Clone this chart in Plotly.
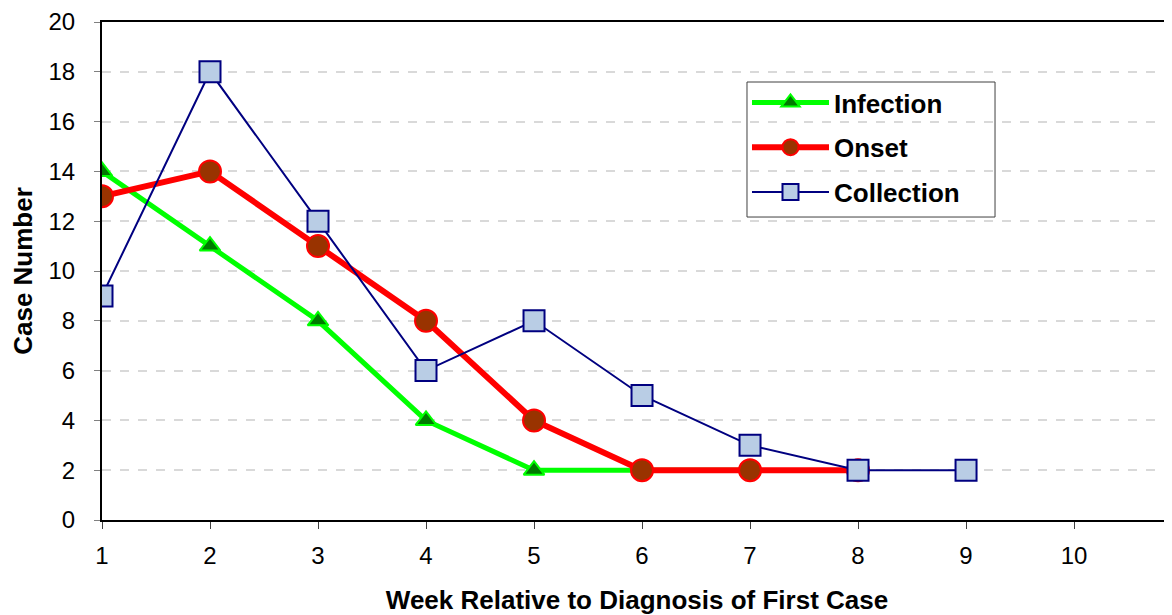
import plotly.graph_objects as go

weeks_inf = [1, 2, 3, 4, 5, 6, 7]
infection = [14, 11, 8, 4, 2, 2, 2]
weeks_on = [1, 2, 3, 4, 5, 6, 7, 8]
onset = [13, 14, 11, 8, 4, 2, 2, 2]
weeks_col = [1, 2, 3, 4, 5, 6, 7, 8, 9]
collection = [9, 18, 12, 6, 8, 5, 3, 2, 2]
x_ticks = [1, 2, 3, 4, 5, 6, 7, 8, 9, 10]
y_ticks = [0, 2, 4, 6, 8, 10, 12, 14, 16, 18, 20]

FONT = "Liberation Sans, Arial, sans-serif"
NARROW = "Liberation Sans Narrow, Arial Narrow, Liberation Sans, sans-serif"

fig = go.Figure()
fig.add_trace(go.Scatter(
    x=weeks_inf, y=infection, name="Infection", mode="lines+markers",
    line=dict(color="#00FF00", width=5),
    marker=dict(symbol="triangle-up", size=18, color="#007A00",
                line=dict(color="#00FF00", width=2)),
    legendgroup="a"))
fig.add_trace(go.Scatter(
    x=weeks_on, y=onset, name="Onset", mode="lines+markers",
    line=dict(color="#FF0000", width=6),
    marker=dict(symbol="circle", size=22, color="#993300",
                line=dict(color="#FF0000", width=2)),
    legendgroup="b"))
fig.add_trace(go.Scatter(
    x=weeks_col, y=collection, name="Collection", mode="lines+markers",
    line=dict(color="#000080", width=2),
    marker=dict(symbol="square", size=21, color="#B9CDE5",
                line=dict(color="#000080", width=2)),
    legendgroup="c"))

# legend frame (transparent, gridlines show through as in the original)
fig.add_shape(type="rect", xref="paper", yref="paper",
              x0=0.6028, x1=0.8346, y0=0.6084, y1=0.8795,
              line=dict(color="#404040", width=1), fillcolor="rgba(0,0,0,0)",
              layer="above")

fig.update_layout(
    width=1164, height=607,
    margin=dict(l=94, r=0, t=14, b=95),
    paper_bgcolor="white", plot_bgcolor="white",
    font=dict(family=FONT, color="black", size=24),
    showlegend=True,
    legend=dict(x=0.6028, y=0.8855, xanchor="left", yanchor="top",
                bgcolor="rgba(0,0,0,0)", borderwidth=0,
                font=dict(size=26, family=FONT, color="black", weight="bold"),
                tracegroupgap=8, traceorder="grouped", itemwidth=77),
    xaxis=dict(range=[1, 10.907], tickvals=x_ticks, ticks="outside",
               ticklen=7, tickcolor="#404040", showgrid=False,
               showline=True, linecolor="black", linewidth=2, mirror=True,
               zeroline=False, tickfont=dict(size=24, family=NARROW),
               ticklabelstandoff=6, automargin=False,
               title=dict(text="<b>Week Relative to Diagnosis of First Case</b>",
                          font=dict(size=26), standoff=50)),
    yaxis=dict(range=[0, 20], tickvals=y_ticks, ticks="outside",
               ticklen=6, tickcolor="#808080", showgrid=True,
               gridcolor="#D9D9D9", griddash="dash", gridwidth=2,
               showline=True, linecolor="black", linewidth=2, mirror=False,
               zeroline=False, tickfont=dict(size=24, family=NARROW),
               ticklabelstandoff=14, automargin=False,
               title=dict(text="<b>Case Number</b>", font=dict(size=26),
                          standoff=21)),
)

fig.write_html("out.html")
